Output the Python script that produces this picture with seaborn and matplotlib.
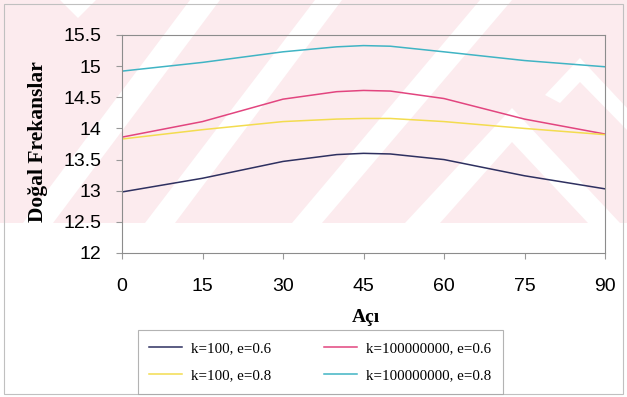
import pandas as pd
import numpy as np
import seaborn as sns
from matplotlib import pyplot as plt
from matplotlib.patches import Polygon, Rectangle

# datos
aci = [0, 15, 30, 40, 45, 50, 60, 75, 90]
k100_e06 = [12.98, 13.20, 13.47, 13.58, 13.60, 13.59, 13.50, 13.24, 13.03]
k1e8_e06 = [13.86, 14.11, 14.47, 14.59, 14.61, 14.60, 14.48, 14.15, 13.91]
k100_e08 = [13.83, 13.98, 14.11, 14.15, 14.16, 14.16, 14.11, 14.00, 13.90]
k1e8_e08 = [14.92, 15.06, 15.23, 15.31, 15.33, 15.32, 15.23, 15.09, 14.99]

series = ['k=100, e=0.6', 'k=100000000, e=0.6', 'k=100, e=0.8', 'k=100000000, e=0.8']
colores = ['#2e3060', '#e2457f', '#f3dc4f', '#40b4c4']
x_ticks = [0, 15, 30, 45, 60, 75, 90]
y_ticks = [12, 12.5, 13, 13.5, 14, 14.5, 15, 15.5]

df = pd.DataFrame({
    'Açı': aci * 4,
    'Frekans': k100_e06 + k1e8_e06 + k100_e08 + k1e8_e08,
    'Serie': sum([[s] * len(aci) for s in series], []),
})

W, H = 627, 397
fig = plt.figure(figsize=(W / 100, H / 100), dpi=100)

def px(pts):
    # coordenadas en pixeles (y hacia abajo) -> fraccion de figura
    return [(x / W, 1 - y / H) for x, y in pts]

# marca de agua (fondo rosado con bandas blancas)
fig.patches.append(Rectangle((0, 1 - 223 / H), 1, 223 / H, transform=fig.transFigure,
                             facecolor='#fcebee', edgecolor='none', zorder=-3))
bandas = [
    [(60, 0), (96, 0), (78, 18)],
    [(190, 0), (220, 0), (53, 223), (23, 223)],
    [(315, 0), (342, 0), (175, 223), (145, 223)],
    [(480, 0), (512, 0), (322, 223), (292, 223)],
    [(405, 223), (512, 108), (620, 223), (588, 223), (512, 142), (440, 223)],
    [(545, 95), (580, 58), (627, 108), (627, 130), (580, 82), (560, 103)],
]
for b in bandas:
    fig.patches.append(Polygon(px(b), closed=True, transform=fig.transFigure,
                               facecolor='white', edgecolor='none', zorder=-2))
# borde exterior
fig.patches.append(Rectangle((4 / W, 1 - 394 / H), 619 / W, 390 / H, transform=fig.transFigure,
                             facecolor='none', edgecolor='#c0c0c0', lw=0.8, zorder=-1))

ax = fig.add_axes([122 / W, 1 - 253 / H, 483 / W, 218 / H])
ax.set_facecolor('none')
sns.lineplot(data=df, x='Açı', y='Frekans', hue='Serie', hue_order=series,
             palette=colores, linewidth=1.1, ax=ax, legend=False)

ax.set_xlim(0, 90)
ax.set_ylim(12, 15.5)
ax.set_xticks(x_ticks)
ax.set_xticklabels([str(t) for t in x_ticks])
ax.set_yticks(y_ticks)
ax.set_yticklabels(['{:g}'.format(t) for t in y_ticks])
ax.tick_params(axis='x', labelsize=14, length=4, pad=14, color='#999999')
ax.tick_params(axis='y', labelsize=14, length=4, pad=11, color='#999999')
for lab in ax.get_xticklabels() + ax.get_yticklabels():
    lab.set_fontfamily('Liberation Sans')
for sp in ax.spines.values():
    sp.set_color('#8c8c8c')
    sp.set_linewidth(0.8)
ax.set_xlabel('')
ax.set_ylabel('')

fig.text(38 / W, 1 - 142 / H, 'Doğal Frekanslar', rotation=90, ha='center', va='center',
         family='Liberation Serif', fontweight='bold', fontsize=15.5)
fig.text(366 / W, 1 - 318 / H, 'Açı', ha='center', va='center',
         family='Liberation Serif', fontweight='bold', fontsize=14)

# leyenda en dos columnas
lineas = ax.get_lines()
orden = [0, 2, 1, 3]
leg = fig.legend([lineas[i] for i in orden], [series[i] for i in orden], ncol=2,
                 loc='upper left', bbox_to_anchor=(138 / W, 1 - 330 / H),
                 prop={'family': 'Liberation Serif', 'size': 10.8},
                 frameon=True, fancybox=False, edgecolor='#a0a0a0',
                 handlelength=2.2, handletextpad=0.6, columnspacing=3.5,
                 labelspacing=0.95, borderpad=0.75, borderaxespad=0)
leg.get_frame().set_linewidth(0.8)

fig.savefig('out.png', dpi=100)
